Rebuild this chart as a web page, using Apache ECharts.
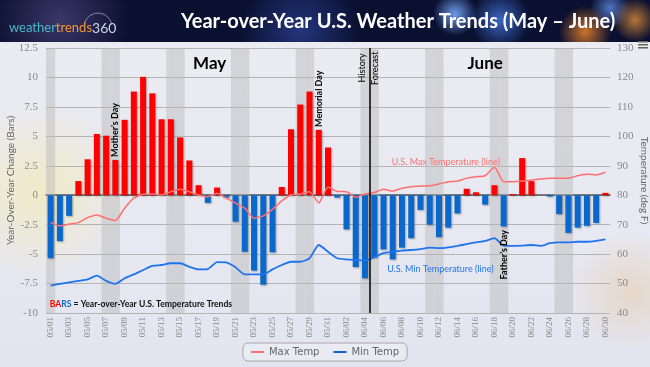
<!DOCTYPE html>
<html><head><meta charset="utf-8">
<script src="https://cdn.jsdelivr.net/npm/echarts@6/dist/echarts.min.js"></script>
<style>
html,body{margin:0;padding:0;width:650px;height:367px;overflow:hidden;}
body{background:
 radial-gradient(circle at 455px 14px, rgba(120,170,255,0.9), rgba(60,120,255,0) 22px),
 radial-gradient(circle at 500px 20px, rgba(80,140,255,0.7), rgba(60,120,255,0) 30px),
 radial-gradient(circle at 585px 32px, rgba(255,140,40,0.8), rgba(255,120,30,0) 26px),
 radial-gradient(circle at 635px 20px, rgba(255,160,60,0.7), rgba(255,120,30,0) 22px),
 radial-gradient(circle at 610px 8px, rgba(110,160,255,0.7), rgba(60,120,255,0) 20px),
 radial-gradient(circle at 300px 30px, rgba(60,90,200,0.5), rgba(60,90,200,0) 60px),
 radial-gradient(circle at 60px 20px, rgba(90,80,140,0.6), rgba(60,60,120,0) 70px),
 #0a1030;}
#panel{position:absolute;left:0;top:42px;width:650px;height:325px;
 background:
 radial-gradient(circle at 40px 150px, rgba(245,235,170,0.6), rgba(245,235,170,0) 90px),
 radial-gradient(circle at 630px 250px, rgba(230,200,160,0.5), rgba(230,200,160,0) 60px),
 linear-gradient(180deg, #ebebf2 0%, #e7e8f1 60%, #e2e4ef 100%);}
#chart{position:absolute;left:0;top:0;width:650px;height:367px;}
</style></head>
<body><div id="panel"></div><div id="chart"></div>
<script>
// ---- data ----
const categories = ['05/01','05/02','05/03','05/04','05/05','05/06','05/07','05/08','05/09','05/10',
 '05/11','05/12','05/13','05/14','05/15','05/16','05/17','05/18','05/19','05/20',
 '05/21','05/22','05/23','05/24','05/25','05/26','05/27','05/28','05/29','05/30','05/31',
 '06/01','06/02','06/03','06/04','06/05','06/06','06/07','06/08','06/09','06/10',
 '06/11','06/12','06/13','06/14','06/15','06/16','06/17','06/18','06/19','06/20',
 '06/21','06/22','06/23','06/24','06/25','06/26','06/27','06/28','06/29','06/30'];
const yoyChange = [-5.35,-3.9,-1.75,1.2,3.05,5.2,5.05,3.0,6.4,8.8,
 10.05,8.65,6.45,6.45,4.9,2.95,0.85,-0.65,0.65,-0.2,
 -2.25,-4.8,-6.4,-7.6,-4.85,0.7,5.6,7.7,8.8,5.55,4.05,
 -0.2,-2.9,-6.1,-7.05,-5.3,-4.6,-5.45,-4.45,-3.65,-1.25,
 -2.5,-3.55,-2.75,-1.55,0.55,0.25,-0.8,0.85,-2.65,0.1,
 3.15,1.2,0,-0.12,-1.6,-3.2,-2.75,-2.6,-2.35,0.2];
const maxTemp = [70.8,69.6,70.2,70.7,72.4,73.3,72.2,71.4,75.6,79.0,
 80.3,80.4,80.1,81.2,82.0,81.2,80.1,79.5,80.7,79.0,
 77.3,75.6,72.2,73.0,75.2,78.1,80.1,80.4,81.2,77.4,82.8,
 81.3,81.2,79.3,80.4,80.9,82.0,81.4,82.4,82.9,83.1,
 83.2,83.8,84.6,84.8,85.8,86.3,86.6,89.5,84.6,84.6,
 84.8,85.2,85.5,85.8,85.8,85.8,86.6,87.1,86.9,87.8];
const minTemp = [49.3,49.9,50.4,50.9,51.4,52.7,50.9,49.9,51.8,53.1,
 54.6,56.0,56.3,56.9,56.9,55.7,54.8,54.9,57.3,57.2,
 55.5,53.1,53.1,53.1,54.8,56.3,57.4,57.4,58.6,63.1,60.8,
 58.6,58.2,58.0,57.8,58.9,60.3,60.8,61.2,61.4,61.7,
 62.2,62.0,62.3,62.8,63.4,64.0,64.5,65.4,62.9,62.8,
 62.9,63.1,62.8,63.7,64.0,64.0,64.2,64.2,64.5,65.0];
const weekendDays = ['05/01','05/07','05/08','05/14','05/15','05/21','05/22','05/28','05/29',
 '06/04','06/05','06/11','06/12','06/18','06/19','06/25','06/26'];
const forecastStart = '06/05';
const leftTicks = {min:-10, max:12.5, step:2.5};
const rightTicks = {min:40, max:130, step:10};
const seriesNames = ['Max Temp','Min Temp'];

// ---- chart ----
const chart = echarts.init(document.getElementById('chart'));
const RED = '#ff0000', BLUE = '#0a68cc', MAXC = '#ff6f6f', MINC = '#1f74ee';
const labelFont = 'Liberation Serif';
const bandData = weekendDays.map(d => { const i = categories.indexOf(d); return [{xAxis: i-0.5},{xAxis: i+0.5}]; });
const splitX = categories.indexOf(forecastStart) - 0.5;

chart.setOption({
  animation: false,
  title: {text:'Year-over-Year U.S. Weather Trends (May \u2013 June)', left:176, top:7,
    textStyle:{color:'#fff', fontFamily:'Lato', fontWeight:'bold', fontSize:20}},
  grid: {left:46, right:40, top:48, bottom:54, containLabel:false, outerBoundsMode:'none'},
  legend: {data: seriesNames, left:'center', top:343, itemWidth:13, itemHeight:2, icon:'rect', itemGap:14,
    padding:[4,8], borderColor:'#a8a8a8', borderWidth:1, borderRadius:5, backgroundColor:'rgba(255,255,255,0.25)',
    textStyle:{color:'#666', fontFamily:'DejaVu Sans', fontSize:10}},
  xAxis: [
    {type:'category', data: categories, boundaryGap:true,
     axisLine:{lineStyle:{color:'#555', width:1.5}}, axisTick:{show:false},
     axisLabel:{interval:1, rotate:90, color:'#8a8a8a', fontFamily:labelFont, fontSize:9, margin:4}},
    {type:'value', min:-0.5, max:categories.length-0.5, show:false}
  ],
  yAxis: [
    {type:'value', min:leftTicks.min, max:leftTicks.max, interval:leftTicks.step,
     name:'Year-Over-Year Change (Bars)', nameLocation:'middle', nameGap:30, nameMoveOverlap:false,
     nameTextStyle:{color:'#666', fontFamily:'Lato', fontSize:10},
     axisLine:{show:false}, axisTick:{show:false},
     axisLabel:{color:'#8a8a8a', fontFamily:labelFont, fontSize:11, margin:8},
     splitLine:{lineStyle:{color:'#b4b4b4', width:1}}},
    {type:'value', min:rightTicks.min, max:rightTicks.max, interval:rightTicks.step, position:'right',
     name:'Temperature (deg F)', nameLocation:'middle', nameGap:29, nameRotate:-90, nameMoveOverlap:false,
     nameTextStyle:{color:'#666', fontFamily:'Lato', fontSize:10},
     axisLine:{show:false}, axisTick:{show:false},
     axisLabel:{color:'#8a8a8a', fontFamily:labelFont, fontSize:11, margin:7},
     splitLine:{show:false}}
  ],
  series: [
    {name:'bands', type:'line', xAxisIndex:1, yAxisIndex:0, data:[[-5,-100]], symbol:'none', silent:true,
     lineStyle:{opacity:0}, z:0,
     markArea:{silent:true, itemStyle:{color:'rgba(185,185,185,0.45)'}, data: bandData},
     markLine:{silent:true, symbol:'none', label:{show:false}, lineStyle:{color:'#000', width:1.5, type:'solid'},
       data:[{xAxis: splitX}]}},
    {name:'YoY', type:'bar', data: yoyChange.map(v => ({value:v, itemStyle:{color: v >= 0 ? RED : BLUE}})),
     barWidth:6, z:3,
     itemStyle:{shadowColor:'rgba(0,0,0,0.3)', shadowBlur:2, shadowOffsetX:1, shadowOffsetY:1}},
    {name:'Max Temp', type:'line', yAxisIndex:1, data:maxTemp, symbol:'none', smooth:0.2, z:4,
     itemStyle:{color:MAXC}, lineStyle:{color:MAXC, width:1.5}},
    {name:'Min Temp', type:'line', yAxisIndex:1, data:minTemp, symbol:'none', smooth:0.2, z:4,
     itemStyle:{color:BLUE}, lineStyle:{color:MINC, width:1.8}}
  ]
});

// ---- annotations (placed in data coordinates) ----
const P = (x, y) => chart.convertToPixel({xAxisIndex:1, yAxisIndex:0}, [x, y]);
const idx = d => categories.indexOf(d);
const notes = [];
function txt(pos, text, style, rot) {
  notes.push({type:'text', x:pos[0], y:pos[1], rotation: rot || 0, z:100,
    style: Object.assign({text: text, fill:'#000'}, style)});
}
const vert = Math.PI/2;
txt(P(17.2, 11.15), 'May', {font:'bold 17px Lato', align:'center', verticalAlign:'middle'});
txt(P(47.0, 11.15), 'June', {font:'bold 17px Lato', align:'center', verticalAlign:'middle'});
const md = idx('05/08'); txt(P(md, yoyChange[md] + 0.25), "Mother\u2019s Day", {font:'bold 9px Lato', align:'left', verticalAlign:'middle'}, vert);
const mem = idx('05/30'); txt(P(mem, yoyChange[mem] + 0.25), 'Memorial Day', {font:'bold 9px Lato', align:'left', verticalAlign:'middle'}, vert);
const fd = idx('06/19'); txt(P(fd, yoyChange[fd] - 0.3), "Father\u2019s Day", {font:'bold 9px Lato', align:'right', verticalAlign:'middle'}, vert);
txt(P(splitX - 0.76, 12.05), 'History', {font:'9px Lato', align:'right', verticalAlign:'middle'}, vert);
txt(P(splitX + 0.55, 12.2), 'Forecast', {font:'9px Lato', align:'right', verticalAlign:'middle'}, vert);
txt(P(36.9, 2.84), 'U.S. Max Temperature (line)', {font:'9px Lato', fill:MAXC, align:'left', verticalAlign:'middle'});
txt(P(36.4, -6.26), 'U.S. Min Temperature (line)', {font:'9px Lato', fill:MINC, align:'left', verticalAlign:'middle'});
const bp = P(-0.1, -9.24);
notes.push({type:'text', x:bp[0], y:bp[1], z:100, style:{
  text:'{r|BA}{b|RS}{k| = Year-over-Year U.S. Temperature Trends}', verticalAlign:'middle', align:'left',
  rich:{r:{fill:RED, font:'bold 8.6px Lato'}, b:{fill:BLUE, font:'bold 8.6px Lato'}, k:{fill:'#111', font:'bold 8.6px Lato'}}}});
// logo and menu icon
notes.push({type:'text', x:9, y:28, z:100, style:{
  text:'{a|weather}{b|trends}{c|360}', verticalAlign:'middle', align:'left',
  rich:{a:{fill:'#4ab7c6', font:'13px Lato'}, b:{fill:'#f2972e', font:'13px Lato'}, c:{fill:'#c9d6e4', font:'14px Lato'}}}});
notes.push({type:'arc', shape:{cx:98, cy:27, r:14, startAngle:-Math.PI*0.95, endAngle:-Math.PI*0.05}, z:99,
  style:{fill:'none', stroke:'rgba(190,200,215,0.6)', lineWidth:1}});
[0,3,6].forEach(dy => notes.push({type:'rect', shape:{x:638, y:41+dy, width:10, height:1.5}, z:100, style:{fill:'#666'}}));
chart.setOption({graphic: notes});
</script></body></html>
